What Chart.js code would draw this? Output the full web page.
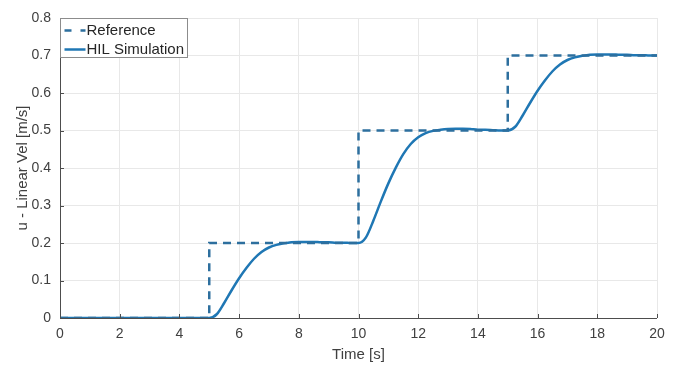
<!DOCTYPE html>
<html>
<head>
<meta charset="utf-8">
<script src="https://cdn.jsdelivr.net/npm/chart.js@4.4.1/dist/chart.umd.min.js"></script>
<style>
  html, body { margin: 0; padding: 0; background: #fff; }
  #wrap { width: 698px; height: 371px; }
</style>
</head>
<body>
<div id="wrap"><canvas id="velChart" width="698" height="371"></canvas></div>
<script>
// reference step input
const refTime = [0, 5, 5, 10, 10, 15, 15, 20];
const refValues = [0, 0, 0.2, 0.2, 0.5, 0.5, 0.7, 0.7];

// HIL simulation response
const hilTime = [0, 1, 2, 3, 4, 5,
  5.25, 5.5, 5.75, 6, 6.25, 6.5, 6.75, 7, 7.25, 7.5, 7.75, 8, 8.25, 8.5, 8.75, 9, 9.25, 9.5, 9.75, 10,
  10.25, 10.5, 10.75, 11, 11.25, 11.5, 11.75, 12, 12.25, 12.5, 12.75, 13, 13.25, 13.5, 13.75, 14, 14.25, 14.5, 14.75, 15,
  15.25, 15.5, 15.75, 16, 16.25, 16.5, 16.75, 17, 17.25, 17.5, 17.75, 18, 18.25, 18.5, 18.75, 19, 19.25, 19.5, 19.75, 20];
const hilValues = [0, 0, 0, 0, 0, 0,
  0.010, 0.040, 0.074, 0.106, 0.134, 0.158, 0.176, 0.188, 0.195, 0.199, 0.202, 0.203, 0.203, 0.203, 0.202, 0.202, 0.201, 0.201, 0.200, 0.200,
  0.215, 0.260, 0.311, 0.359, 0.401, 0.437, 0.464, 0.482, 0.493, 0.499, 0.502, 0.504, 0.505, 0.505, 0.504, 0.502, 0.502, 0.501, 0.500, 0.500,
  0.510, 0.540, 0.574, 0.606, 0.634, 0.658, 0.676, 0.688, 0.695, 0.699, 0.702, 0.703, 0.703, 0.703, 0.702, 0.702, 0.701, 0.701, 0.700, 0.700];

const seriesNames = ['Reference', 'HIL Simulation'];
const xTitle = 'Time [s]';
const yTitle = 'u - Linear Vel [m/s]';

const refColor = '#2d6f9e';
const hilColor = '#1f77b4';
const fontFamily = '"Liberation Sans", Arial, sans-serif';

// axis lines, inner tick marks and the boxed legend
const matlabBits = {
  id: 'matlabBits',
  afterDraw(chart) {
    const ctx = chart.ctx;
    const a = chart.chartArea;
    const xs = chart.scales.x, ys = chart.scales.y;
    ctx.save();
    ctx.strokeStyle = '#4d4d4d';
    ctx.lineWidth = 1;
    ctx.beginPath();
    ctx.moveTo(a.left + 0.5, a.top);
    ctx.lineTo(a.left + 0.5, a.bottom + 0.5);
    ctx.lineTo(a.right, a.bottom + 0.5);
    xs.ticks.forEach(t => {
      const px = Math.round(xs.getPixelForValue(t.value)) + 0.5;
      ctx.moveTo(px, a.bottom);
      ctx.lineTo(px, a.bottom - 4);
    });
    ys.ticks.forEach(t => {
      const py = Math.round(ys.getPixelForValue(t.value)) + 0.5;
      ctx.moveTo(a.left, py);
      ctx.lineTo(a.left + 4, py);
    });
    ctx.stroke();

    // legend
    const lx = a.left + 0.5, ly = a.top + 0.5, lw = 127, lh = 39;
    ctx.fillStyle = '#fff';
    ctx.fillRect(lx, ly, lw, lh);
    ctx.strokeStyle = '#8c8c8c';
    ctx.strokeRect(lx, ly, lw, lh);
    ctx.font = '15px ' + fontFamily;
    ctx.textBaseline = 'middle';
    ctx.fillStyle = '#262626';
    const rows = [ly + 12, ly + 31];
    ctx.lineWidth = 2.5;
    ctx.strokeStyle = refColor;
    ctx.setLineDash([7, 9]);
    ctx.beginPath();
    ctx.moveTo(lx + 4, rows[0]);
    ctx.lineTo(lx + 25, rows[0]);
    ctx.stroke();
    ctx.setLineDash([]);
    ctx.strokeStyle = hilColor;
    ctx.beginPath();
    ctx.moveTo(lx + 4, rows[1]);
    ctx.lineTo(lx + 25, rows[1]);
    ctx.stroke();
    ctx.fillText(seriesNames[0], lx + 26, rows[0]);
    ctx.fillText(seriesNames[1], lx + 26, rows[1]);
    ctx.restore();
  }
};

new Chart(document.getElementById('velChart').getContext('2d'), {
  type: 'line',
  data: {
    datasets: [
      {
        label: seriesNames[0],
        data: refTime.map((t, i) => ({ x: t, y: refValues[i] })),
        borderColor: refColor,
        borderWidth: 2.5,
        borderDash: [8, 6],
        pointRadius: 0,
        fill: false,
        tension: 0
      },
      {
        label: seriesNames[1],
        data: hilTime.map((t, i) => ({ x: t, y: hilValues[i] })),
        borderColor: hilColor,
        borderWidth: 2.5,
        pointRadius: 0,
        fill: false,
        cubicInterpolationMode: 'monotone'
      }
    ]
  },
  options: {
    responsive: false,
    animation: false,
    layout: { padding: { top: 18, right: 41, left: 0, bottom: 0 } },
    plugins: {
      legend: { display: false },
      tooltip: { enabled: false }
    },
    scales: {
      x: {
        type: 'linear',
        min: 0,
        max: 20,
        ticks: {
          stepSize: 2,
          color: '#404040',
          font: { family: fontFamily, size: 14 },
          padding: 8,
          maxRotation: 0
        },
        grid: { color: '#e8e8e8', drawTicks: false },
        border: { display: false },
        title: {
          display: true,
          text: xTitle,
          color: '#404040',
          font: { family: fontFamily, size: 15 },
          padding: { top: 0, bottom: 7 }
        },
        afterFit(s) { s.height = 53; }
      },
      y: {
        min: 0,
        max: 0.8,
        ticks: {
          stepSize: 0.1,
          color: '#404040',
          font: { family: fontFamily, size: 14 },
          padding: 9,
          callback: v => String(Math.round(v * 10) / 10)
        },
        grid: { color: '#e8e8e8', drawTicks: false },
        border: { display: false },
        title: {
          display: true,
          text: yTitle,
          color: '#404040',
          font: { family: fontFamily, size: 15 },
          padding: { top: 14, bottom: 0 }
        },
        afterFit(s) { s.width = 60; }
      }
    }
  },
  plugins: [matlabBits]
});
</script>
</body>
</html>
